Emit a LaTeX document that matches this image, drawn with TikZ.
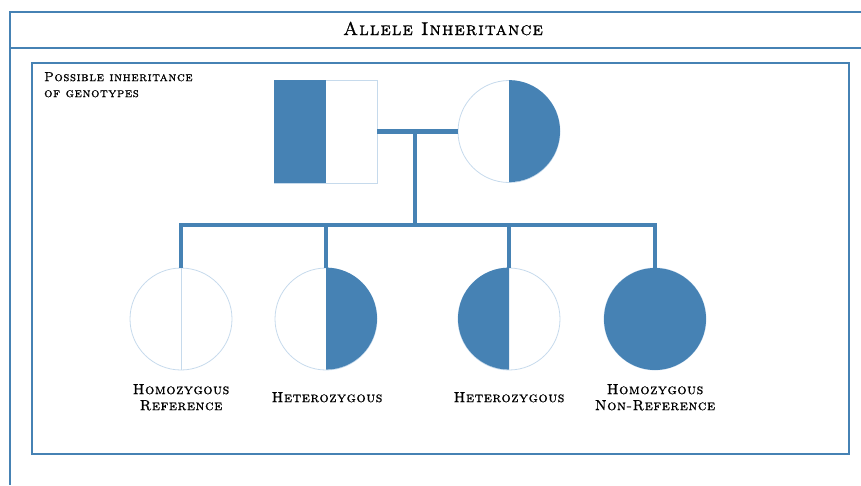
\documentclass[tikz,border=0pt]{standalone}
\usepackage{fontspec}
\newfontfamily\capsfont{lmromancaps10-regular.otf}[FakeBold=1]
\definecolor{steel}{HTML}{4682B4}
\definecolor{pale}{HTML}{C6DAEC}
\begin{document}
\begin{tikzpicture}[x=1pt,y=-1pt,
  kin/.style={draw=steel, line width=4.5pt},
  frameline/.style={draw=steel, line width=2.4pt},
  innerframe/.style={draw=steel, line width=2pt},
  outline/.style={draw=pale, line width=0.8pt},
  person/.style={circle, outline, minimum size=102pt, inner sep=0pt},
  male/.style={rectangle, outline, minimum size=103pt, inner sep=0pt},
  genotype/.style={anchor=north, align=center, inner sep=0pt,
    font=\capsfont\fontsize{14.5}{16}\selectfont\addfontfeature{LetterSpace=4}},
  heading/.style={anchor=base, inner sep=0pt,
    font=\capsfont\fontsize{18.5}{20}\selectfont\addfontfeature{LetterSpace=6}},
  caption/.style={anchor=north west, align=left, inner sep=0pt,
    font=\capsfont\fontsize{13}{16}\selectfont\addfontfeature{LetterSpace=5}}]
\useasboundingbox (0,0) rectangle (861,485);

% outer frame with title bar
\draw[frameline] (861,12) -- (10,12) -- (10,485);
\draw[frameline] (10,48) -- (861,48);
\node[heading] (title) at (443,35) {Allele Inheritance};

% inner panel
\draw[innerframe] (32,63) rectangle (849,454);
\node[caption] (note) at (44,72) {Possible inheritance\\of genotypes};

% parents
\node[male] (father) at (325.5,131.5) {};
\node[person] (mother) at (509,131.5) {};
\fill[steel] (father.north west) rectangle (father.south);
\fill[steel] (mother.north) arc[start angle=90, end angle=-90, radius=51pt] -- cycle;

% children
\node[person] (c1) at (181,319) {};
\node[person] (c2) at (326,319) {};
\node[person] (c3) at (509,319) {};
\node[person] (c4) at (655,319) {};
\draw[outline] (c1.north) -- (c1.south);
\fill[steel] (c2.north) arc[start angle=90, end angle=-90, radius=51pt] -- cycle;
\fill[steel] (c3.north) arc[start angle=90, end angle=270, radius=51pt] -- cycle;
\fill[steel] (c4.center) circle[radius=51pt];

% kinship lines
\coordinate (union) at (415,131.5);
\coordinate (sibship) at (415,225);
\draw[kin] (father.east) -- (mother.west);
\draw[kin] (union) -- (sibship);
\draw[kin] (c1.north) |- (sibship) -| (c4.north);
\draw[kin] (c2.north) -- (c2.north |- sibship);
\draw[kin] (c3.north) -- (c3.north |- sibship);

% genotype labels
\node[genotype] (l1) at (181,384) {Homozygous\\Reference};
\node[genotype] (l2) at (327,392) {Heterozygous};
\node[genotype] (l3) at (509,392) {Heterozygous};
\node[genotype] (l4) at (655,384) {Homozygous\\Non-Reference};
\end{tikzpicture}
\end{document}
